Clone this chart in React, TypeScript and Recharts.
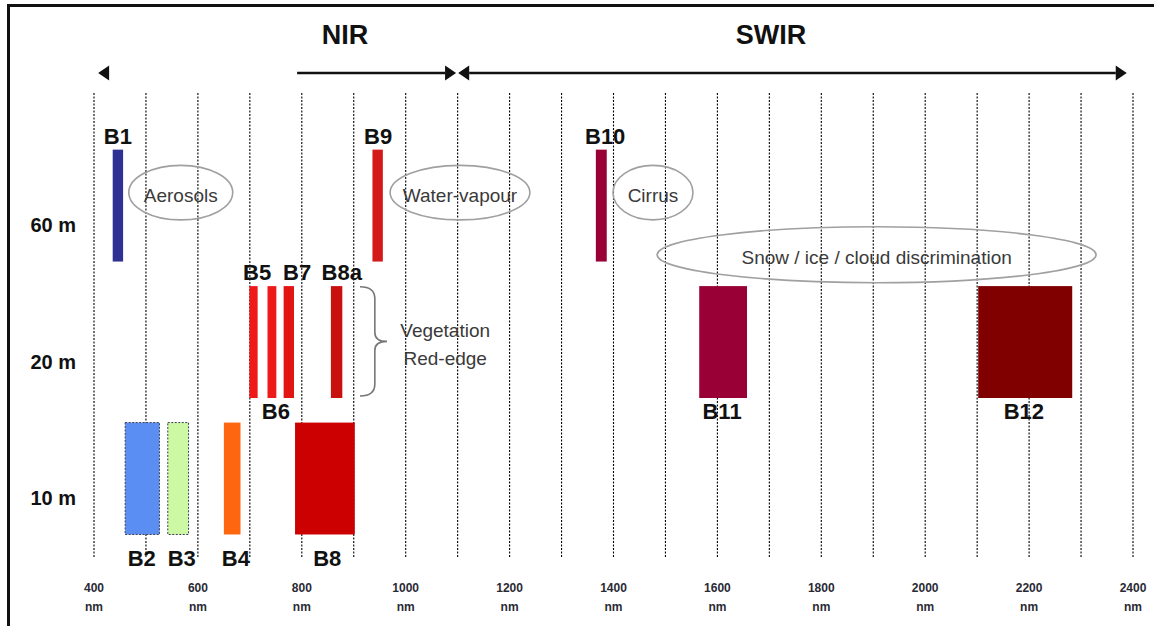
import { CartesianGrid, ComposedChart, ReferenceArea, ReferenceDot, ReferenceLine, XAxis, YAxis } from 'recharts'

// Sentinel-2 spectral bands (nm)
const bandNames = ['B1', 'B2', 'B3', 'B4', 'B5', 'B6', 'B7', 'B8', 'B8a', 'B9', 'B10', 'B11', 'B12']
const bandStart = [436, 460, 542, 650, 699, 734, 765, 787, 856, 936, 1366, 1565, 2102]
const bandEnd = [456, 526, 582, 682, 715, 751, 785, 902, 878, 956, 1387, 1657, 2283]
const bandResolution = [60, 10, 10, 10, 20, 20, 20, 10, 20, 60, 60, 20, 20]
// where each band name sits along the wavelength axis
const bandLabelAt = [446, 492, 569, 673, 714, 750, 791, 849, 877, 947, 1384, 1609, 2190]

// spatial resolution rows, bottom to top
const resolutionRows = [10, 20, 60]

const gridTicks = [400, 500, 600, 700, 800, 900, 1000, 1100, 1200, 1300, 1400, 1500, 1600, 1700, 1800, 1900, 2000, 2100, 2200, 2300, 2400]
const labelTicks = [400, 600, 800, 1000, 1200, 1400, 1600, 1800, 2000, 2200, 2400]

// spectral region arrows on top
const regionNames = ['NIR', 'SWIR']
const regionLabelAt = [883, 1703]
const arrowFrom = [408, 791, 1101]
const arrowTo = [408, 1097, 2388]
const arrowStartHead = [true, false, true]
const arrowEndHead = [false, true, true]

// ellipse notes: wavelength span and row span
const noteTexts = ['Aerosols', 'Water-vapour', 'Cirrus', 'Snow / ice / cloud discrimination']
const noteFrom = [467, 970, 1399, 1484]
const noteTo = [667, 1239, 1553, 2329]
const noteLow = [2.47, 2.47, 2.47, 2.01]
const noteHigh = [2.87, 2.87, 2.87, 2.42]

const redEdgeLines = ['Vegetation', 'Red-edge']
const redEdgeLineAt = [1.663, 1.458]

const bandColors: Record<string, string> = {
  B1: '#2e3192',
  B2: '#5b8ef2',
  B3: '#cdf8a4',
  B4: '#ff6610',
  B5: '#ee1a1a',
  B6: '#ee1a1a',
  B7: '#e21515',
  B8: '#cc0000',
  B8a: '#c8100f',
  B9: '#d41919',
  B10: '#990036',
  B11: '#990036',
  B12: '#800000',
}
const labelBelow = new Set(['B2', 'B3', 'B4', 'B6', 'B8', 'B11', 'B12'])
const dottedEdge = new Set(['B2', 'B3'])

const bands = bandNames.map((name, i) => ({
  name,
  start: bandStart[i],
  end: bandEnd[i],
  labelAt: bandLabelAt[i],
  row: resolutionRows.indexOf(bandResolution[i]),
}))

const TITLE_Y = 3.825
const ARROW_Y = 3.547

function BandShape(props: any) {
  const { x, y, width, height, name, row, start, end, labelAt } = props
  const below = labelBelow.has(name)
  const ty = below ? y + height + (row === 0 ? 32 : 21) : y - 6
  // place the label inside the rect's pixel span using the band's wavelength span
  const tx = x + ((labelAt - start) / (end - start)) * width
  return (
    <g>
      <rect
        x={x}
        y={y}
        width={width}
        height={height}
        fill={bandColors[name]}
        stroke={dottedEdge.has(name) ? '#3a3f55' : 'none'}
        strokeDasharray="2 1.5"
      />
      <text x={tx} y={ty} textAnchor="middle" fontSize={22} fontWeight="bold" fill="#111">
        {name}
      </text>
    </g>
  )
}

function NoteShape(props: any) {
  const { x, y, width, height, text } = props
  const cx = x + width / 2
  const cy = y + height / 2
  return (
    <g>
      <ellipse cx={cx} cy={cy} rx={width / 2} ry={height / 2} fill="none" stroke="#a0a0a0" strokeWidth={1.6} />
      <text x={cx} y={cy + 3} dy="0.35em" textAnchor="middle" fontSize={19} fill="#3a3a3a">
        {text}
      </text>
    </g>
  )
}

function BraceShape(props: any) {
  const { x, y, width, height } = props
  const stem = x + width * 0.55
  const tip = x + width
  const mid = y + height / 2
  const b = y + height
  const d = `M${x},${y} Q${stem},${y} ${stem},${y + 12} L${stem},${mid - 9} Q${stem},${mid} ${tip},${mid} Q${stem},${mid} ${stem},${mid + 9} L${stem},${b - 12} Q${stem},${b} ${x},${b}`
  return <path d={d} fill="none" stroke="#777" strokeWidth={1.6} />
}

function ArrowShape(props: any) {
  const { x1, y1, x2, startHead, endHead } = props
  const head = 11
  const half = 7.5
  const lx1 = startHead ? x1 + head : x1
  const lx2 = endHead ? x2 - head : x2
  return (
    <g>
      {lx2 > lx1 && <line x1={lx1} y1={y1} x2={lx2} y2={y1} stroke="#111" strokeWidth={2.6} />}
      {startHead && <polygon points={`${x1},${y1} ${x1 + head},${y1 - half} ${x1 + head},${y1 + half}`} fill="#111" />}
      {endHead && <polygon points={`${x2},${y1} ${x2 - head},${y1 - half} ${x2 - head},${y1 + half}`} fill="#111" />}
    </g>
  )
}

function NmTick(props: any) {
  const { x, y, payload } = props
  if (!labelTicks.includes(payload.value)) return <g />
  return (
    <g>
      <text x={x} y={y + 35} textAnchor="middle" fontSize={12} fontWeight="bold" fill="#2a2a35">
        {payload.value}
      </text>
      <text x={x} y={y + 54} textAnchor="middle" fontSize={12} fontWeight="bold" fill="#2a2a35">
        nm
      </text>
    </g>
  )
}

export default function App() {
  return (
    <div
      style={{
        position: 'absolute',
        left: 0,
        top: 0,
        width: 1154,
        height: 626,
        overflow: 'hidden',
        background: '#fff',
        fontFamily: '"Liberation Sans", Arial, sans-serif',
      }}
    >
      <div
        style={{
          position: 'absolute',
          left: 7,
          top: 4,
          width: 1200,
          height: 700,
          borderLeft: '3px solid #111',
          borderTop: '3px solid #111',
        }}
      />
      <div style={{ position: 'absolute', left: 0, top: 0 }}>
        <ComposedChart width={1154} height={626} data={bands} margin={{ top: 93, right: 21, bottom: 9, left: 0 }}>
          <CartesianGrid horizontal={false} stroke="#000" strokeWidth={1.1} strokeDasharray="2 1.5" />
          <XAxis
            type="number"
            dataKey="start"
            domain={[400, 2400]}
            allowDataOverflow
            ticks={gridTicks}
            interval={0}
            axisLine={false}
            tickLine={false}
            tickSize={0}
            tickMargin={0}
            height={60}
            tick={<NmTick />}
          />
          <YAxis
            type="number"
            dataKey="row"
            domain={[0, 3.4]}
            allowDataOverflow
            ticks={resolutionRows.map((_, i) => i + 0.43)}
            interval={0}
            axisLine={false}
            tickLine={false}
            tickSize={0}
            tickMargin={18}
            width={94}
            tickFormatter={(_v: number, i: number) => `${resolutionRows[i]} m`}
            tick={{ fill: '#111', fontSize: 20, fontWeight: 'bold' }}
          />

          {noteTexts.map((text, i) => (
            <ReferenceArea
              key={text}
              x1={noteFrom[i]}
              x2={noteTo[i]}
              y1={noteLow[i]}
              y2={noteHigh[i]}
              ifOverflow="visible"
              shape={(p: any) => <NoteShape {...p} text={text} />}
            />
          ))}

          {bands.map((b) => (
            <ReferenceArea
              key={b.name}
              x1={b.start}
              x2={b.end}
              y1={b.row + 0.165}
              y2={b.row + 0.985}
              ifOverflow="visible"
              shape={(p: any) => (
                <BandShape {...p} name={b.name} row={b.row} start={b.start} end={b.end} labelAt={b.labelAt} />
              )}
            />
          ))}

          <ReferenceArea x1={912} x2={964} y1={1.18} y2={1.98} ifOverflow="visible" shape={(p: any) => <BraceShape {...p} />} />
          {redEdgeLines.map((line, i) => (
            <ReferenceDot
              key={line}
              x={1076}
              y={redEdgeLineAt[i]}
              r={0}
              ifOverflow="visible"
              shape={(p: any) => (
                <text x={p.cx} y={p.cy} dy="0.35em" textAnchor="middle" fontSize={19} fill="#3a3a3a">
                  {line}
                </text>
              )}
            />
          ))}

          {arrowFrom.map((from, i) => (
            <ReferenceLine
              key={`arrow-${i}`}
              segment={[
                { x: from, y: ARROW_Y },
                { x: arrowTo[i], y: ARROW_Y },
              ]}
              ifOverflow="visible"
              shape={(p: any) => <ArrowShape {...p} startHead={arrowStartHead[i]} endHead={arrowEndHead[i]} />}
            />
          ))}
          {regionNames.map((name, i) => (
            <ReferenceDot
              key={name}
              x={regionLabelAt[i]}
              y={TITLE_Y}
              r={0}
              ifOverflow="visible"
              shape={(p: any) => (
                <text x={p.cx} y={p.cy} dy="0.35em" textAnchor="middle" fontSize={27} fontWeight="bold" fill="#111">
                  {name}
                </text>
              )}
            />
          ))}
        </ComposedChart>
      </div>
    </div>
  )
}
